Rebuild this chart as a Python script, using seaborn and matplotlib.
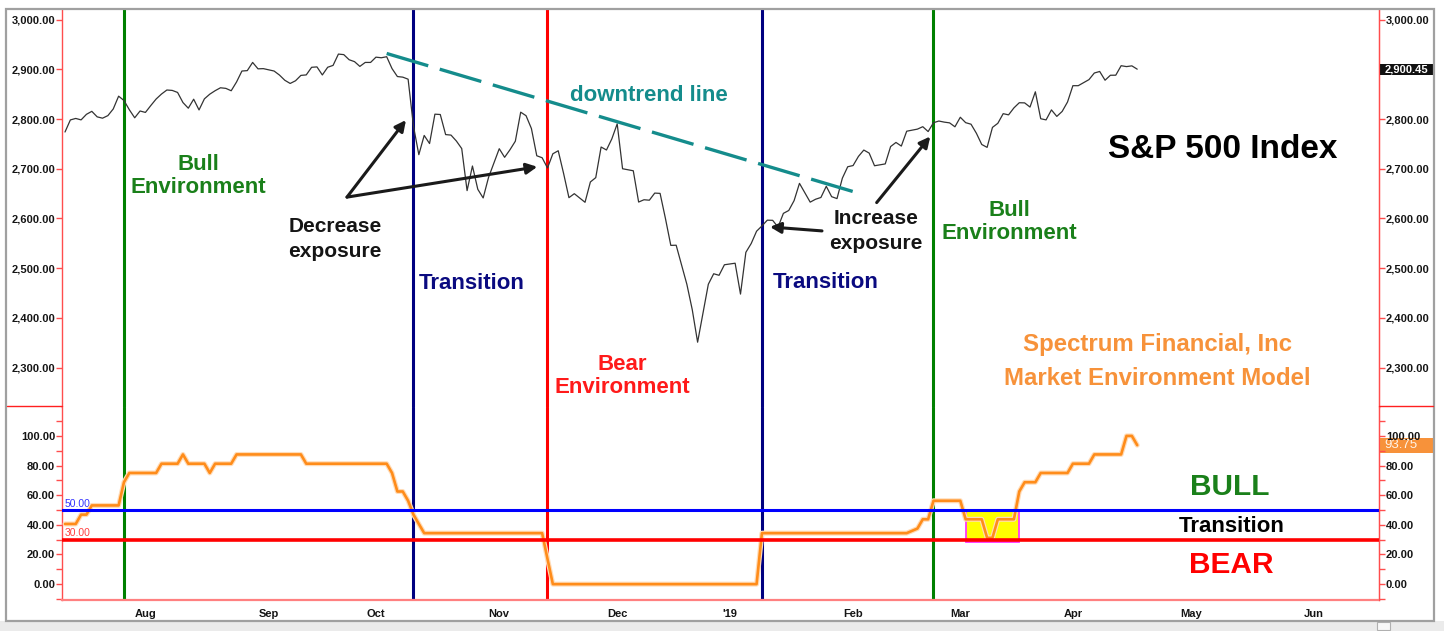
import numpy as np
import pandas as pd
import seaborn as sns
import matplotlib.pyplot as plt
import matplotlib.patheffects as pe
from matplotlib.patches import Rectangle
from matplotlib.lines import Line2D
from matplotlib.transforms import blended_transform_factory

# -----------------------------
# Data
# -----------------------------
start_date = '2018-07-11'
end_date = '2019-04-17'
market_holidays = ['2018-09-03', '2018-11-22', '2018-12-05', '2018-12-25',
                   '2019-01-01', '2019-01-21', '2019-02-18']

# S&P 500 daily closes, one value per trading day
spx_close = [
    # Jul 2018
    2774.0, 2798.3, 2801.3, 2798.4, 2809.6, 2815.6, 2804.5, 2801.8, 2807.0, 2820.4,
    2846.1, 2837.4, 2818.8, 2802.6, 2816.3,
    # Aug
    2813.4, 2827.2, 2840.4, 2850.4, 2858.5, 2857.7, 2853.6, 2833.3, 2821.9, 2840.0,
    2818.4, 2840.7, 2850.1, 2857.1, 2863.0, 2861.8, 2857.0, 2874.7, 2896.7, 2897.5,
    2914.0, 2901.1, 2901.5,
    # Sep
    2896.7, 2888.6, 2878.1, 2871.7, 2877.1, 2887.9, 2888.9, 2904.2, 2905.0, 2888.8,
    2904.3, 2908.0, 2930.8, 2929.7, 2919.4, 2915.6, 2906.0, 2914.0, 2914.0,
    # Oct
    2924.6, 2923.4, 2925.5, 2901.6, 2885.6, 2884.4, 2880.3, 2785.7, 2728.4, 2767.1,
    2750.8, 2809.9, 2809.2, 2768.8, 2767.8, 2755.9, 2740.7, 2656.1, 2705.6, 2658.7,
    2641.3, 2682.6, 2711.7,
    # Nov
    2740.4, 2723.1, 2738.3, 2755.5, 2813.9, 2806.8, 2781.0, 2726.2, 2722.2, 2701.6,
    2730.2, 2736.3, 2690.7, 2641.9, 2649.9, 2632.6, 2673.5, 2682.2, 2743.8, 2737.8,
    2760.2,
    # Dec
    2790.4, 2700.1, 2696.0, 2633.1, 2637.7, 2636.8, 2651.1, 2650.5, 2600.0, 2545.9,
    2546.2, 2507.0, 2467.4, 2416.6, 2351.1, 2467.7, 2488.8, 2485.7, 2506.9,
    # Jan 2019
    2510.0, 2447.9, 2531.9, 2549.7, 2574.4, 2585.0, 2596.6, 2596.3, 2582.6, 2610.3,
    2616.1, 2636.0, 2670.7, 2632.9, 2638.7, 2642.3, 2664.8, 2643.9, 2640.0, 2681.1,
    2704.1,
    # Feb
    2706.5, 2724.9, 2737.7, 2731.6, 2706.1, 2707.9, 2709.8, 2744.7, 2753.0, 2745.7,
    2775.6, 2779.8, 2784.7, 2774.9, 2792.7, 2796.1, 2793.9, 2792.4, 2784.5,
    # Mar
    2803.7, 2792.8, 2789.7, 2771.5, 2748.9, 2743.1, 2783.3, 2791.5, 2810.9, 2808.5,
    2822.5, 2832.9, 2832.6, 2824.2, 2854.9, 2800.7, 2798.4, 2818.5, 2805.4, 2815.4,
    2834.4,
    # Apr
    2867.2, 2867.2, 2873.4, 2879.4, 2892.7, 2895.8, 2878.2, 2888.2, 2888.3, 2907.4,
    2905.6, 2907.1, 2900.45,
]

# Market Environment Model (vertices where the line changes)
model_dates = ['2018-07-11', '2018-07-13', '2018-07-16', '2018-07-17', '2018-07-18',
               '2018-07-25', '2018-07-26', '2018-07-27', '2018-08-03', '2018-08-06',
               '2018-08-09', '2018-08-10', '2018-08-13', '2018-08-16', '2018-08-17',
               '2018-08-20', '2018-08-23', '2018-08-24', '2018-09-11', '2018-09-12',
               '2018-10-03', '2018-10-04', '2018-10-05', '2018-10-08', '2018-10-09',
               '2018-10-10', '2018-10-11', '2018-10-12', '2018-11-13', '2018-11-14',
               '2018-11-15', '2019-01-08', '2019-01-09', '2019-02-15', '2019-02-19',
               '2019-02-20', '2019-02-21', '2019-02-22', '2019-03-01', '2019-03-04',
               '2019-03-07', '2019-03-08', '2019-03-11', '2019-03-12', '2019-03-15',
               '2019-03-18', '2019-03-19', '2019-03-21', '2019-03-22', '2019-03-29',
               '2019-04-01', '2019-04-04', '2019-04-05', '2019-04-12', '2019-04-15',
               '2019-04-16', '2019-04-17']
model_values = [40.6, 40.6, 46.9, 46.9, 53.1, 53.1, 68.8, 75.0, 75.0, 81.25,
                81.25, 87.5, 81.25, 81.25, 75.0, 81.25, 81.25, 87.5, 87.5, 81.25,
                81.25, 75.0, 62.5, 62.5, 56.25, 46.9, 40.6, 34.4, 34.4, 17.0,
                0.0, 0.0, 34.4, 34.4, 37.5, 43.75, 43.75, 56.25, 56.25, 43.75,
                43.75, 31.25, 31.25, 43.75, 43.75, 62.5, 68.75, 68.75, 75.0, 75.0,
                81.25, 81.25, 87.5, 87.5, 100.0, 100.0, 93.75]

# regime change dates (vertical lines)
regime_dates = ['2018-07-26', '2018-10-10', '2018-11-14', '2019-01-09', '2019-02-22']
regime_colors = ['#008000', '#000080', '#ff0000', '#000080', '#008000']

# model thresholds
bull_level = 50
bear_level = 30

# highlighted transition dip
box_start, box_end = '2019-03-04', '2019-03-18'
box_low, box_high = 28.5, 50

month_labels = ['Aug', 'Sep', 'Oct', 'Nov', 'Dec', "'19", 'Feb', 'Mar', 'Apr', 'May', 'Jun']
month_starts = ['2018-08-01', '2018-09-01', '2018-10-01', '2018-11-01', '2018-12-01',
                '2019-01-01', '2019-02-01', '2019-03-01', '2019-04-01', '2019-05-01',
                '2019-06-01']

price_ticks = [2300, 2400, 2500, 2600, 2700, 2800, 2900, 3000]
model_ticks = [0, 20, 40, 60, 80, 100]


# x axis is a weekday axis (holidays leave a gap)
def wd(d):
    return np.busday_count(np.datetime64(start_date), np.datetime64(d, 'D'))


days = pd.bdate_range(start_date, end_date)
days = days[~days.isin(pd.to_datetime(market_holidays))]
assert len(days) == len(spx_close)
df = pd.DataFrame({'x': [wd(d.date()) for d in days], 'close': spx_close})
dm = pd.DataFrame({'x': [wd(d) for d in model_dates], 'model': model_values})

# -----------------------------
# Styling
# -----------------------------
sns.set_style("white")
plt.rcParams['font.family'] = ['Liberation Sans', 'DejaVu Sans']

AX_RED = '#ff4d4d'
TXT = '#151515'

fig = plt.figure(figsize=(14.44, 6.31), dpi=100)
W, H = 1444, 631
L, R = 62, 1379
ax1 = fig.add_axes([L / W, 1 - 407 / H, (R - L) / W, (407 - 9) / H])
ax2 = fig.add_axes([L / W, 1 - 600 / H, (R - L) / W, (600 - 407) / H], sharex=ax1)

# -----------------------------
# Top panel: S&P 500
# -----------------------------
sns.lineplot(data=df, x='x', y='close', ax=ax1, color='#333333', linewidth=0.9)
ax1.set_ylim(2220.7, 3021.5)

for d, c in zip(regime_dates, regime_colors):
    ax1.axvline(wd(d), color=c, lw=2.2, zorder=1)
    ax2.axvline(wd(d), color=c, lw=2.2, zorder=1)

# downtrend line
ax1.plot([wd('2018-10-03'), wd('2019-02-04')], [2932, 2651], color='#148c8c',
         lw=2.4, dashes=(13, 3.6), solid_capstyle='butt', zorder=3)
ax1.text(109, 2848, 'downtrend line', color='#148c8c', fontsize=16,
         fontweight='bold', ha='center', va='center')

env = dict(fontsize=16, fontweight='bold', ha='center', va='center', linespacing=1.15)
expo = dict(fontsize=15, fontweight='bold', ha='center', va='center', linespacing=1.4)
ax1.text(24.8, 2686, 'Bull\nEnvironment', color='#1a801a', **env)
ax1.text(50.4, 2559, 'Decrease\nexposure', color=TXT, **expo)
ax1.text(66.0, 2470, 'Transition', color='#0a0a80', fontsize=16, fontweight='bold',
         ha='left', va='center')
ax1.text(103.9, 2283, 'Bear\nEnvironment', color='#ff1a1a', **env)
ax1.text(132.1, 2472, 'Transition', color='#0a0a80', fontsize=16, fontweight='bold',
         ha='left', va='center')
ax1.text(151.3, 2574, 'Increase\nexposure', color=TXT, **expo)
ax1.text(176.2, 2593, 'Bull\nEnvironment', color='#1a801a', **env)
ax1.text(215.9, 2738, 'S&P 500 Index', color='#000000', fontsize=24,
         fontweight='bold', ha='center', va='center')
ax1.text(203.7, 2312, 'Spectrum Financial, Inc\nMarket Environment Model',
         color='#f7923a', fontsize=17.3, fontweight='bold', ha='center',
         va='center', linespacing=1.6)

arrow = dict(arrowstyle='-|>', color='#1a1a1a', lw=2.2, mutation_scale=16,
             shrinkA=0, shrinkB=0)
ax1.annotate('', xy=(63.6, 2798), xytext=(52.6, 2643), arrowprops=arrow)
ax1.annotate('', xy=(88.1, 2704), xytext=(52.6, 2643), arrowprops=arrow)
ax1.annotate('', xy=(131.5, 2583), xytext=(141.2, 2575), arrowprops=arrow)
ax1.annotate('', xy=(161.4, 2765), xytext=(151.4, 2632), arrowprops=arrow)

# -----------------------------
# Bottom panel: model
# -----------------------------
sns.lineplot(data=dm, x='x', y='model', ax=ax2, color='#ff8c1a', linewidth=1.9, zorder=4)
ax2.lines[-1].set_path_effects([pe.Stroke(linewidth=3.6, foreground='#ffdcb8'), pe.Normal()])
ax2.set_ylim(-10.7, 119.5)

ax2.add_patch(Rectangle((wd(box_start), box_low), wd(box_end) - wd(box_start) - 0.1,
                        box_high - box_low, facecolor='#ffff00', edgecolor='#ff33ff',
                        lw=1.3, zorder=2))
ax2.axhline(bull_level, color='#0000ff', lw=2.2, zorder=5)
ax2.axhline(bear_level, color='#ff0000', lw=2.6, zorder=5)
ax2.text(0.0, bull_level + 0.8, '50.00', color='#3333ff', fontsize=7.5, ha='left', va='bottom')
ax2.text(0.0, bear_level + 0.8, '30.00', color='#ff4040', fontsize=7.5, ha='left', va='bottom')

ax2.text(217.2, 65.8, 'BULL', color='#1a801a', fontsize=21.5, fontweight='bold',
         ha='center', va='center')
ax2.text(217.6, 38.8, 'Transition', color='#000000', fontsize=16, fontweight='bold',
         ha='center', va='center')
ax2.text(217.6, 12.9, 'BEAR', color='#ff0000', fontsize=21.5, fontweight='bold',
         ha='center', va='center')

# -----------------------------
# Axes, ticks and labels
# -----------------------------
for ax in (ax1, ax2):
    ax.set_xlabel('')
    ax.set_ylabel('')
    ax.spines['top'].set_visible(False)
    for s in ('left', 'right'):
        ax.spines[s].set_color(AX_RED)
        ax.spines[s].set_linewidth(1.0)
ax1.spines['bottom'].set_visible(False)
ax2.spines['bottom'].set_color('#ff8080')
ax2.spines['bottom'].set_linewidth(1.6)

ax1.set_yticks(price_ticks, labels=[f'{v:,.2f}' for v in price_ticks])
ax2.set_yticks(model_ticks, labels=[f'{v:.2f}' for v in model_ticks])
ax2.set_yticks(np.arange(-10, 120, 10), minor=True)
for ax in (ax1, ax2):
    ax.tick_params(axis='y', which='both', direction='out', length=4, width=1,
                   color=AX_RED, labelsize=8, labelcolor=TXT, pad=1)
    for t in ax.get_yticklabels():
        t.set_fontweight('bold')

ax1.tick_params(axis='x', which='both', bottom=False, labelbottom=False)
ax2.set_xticks([wd(d) for d in month_starts], labels=month_labels)
mondays = pd.date_range('2018-07-16', '2019-06-17', freq='W-MON')
ax2.set_xticks([wd(d.date()) for d in mondays], minor=True)
ax2.tick_params(axis='x', which='major', direction='out', length=6, width=1,
                color=AX_RED, labelsize=8, labelcolor=TXT, pad=0.5)
ax2.tick_params(axis='x', which='minor', direction='out', length=3.5, width=1, color=AX_RED)
for t in ax2.get_xticklabels():
    t.set_fontweight('bold')

# x range set after the ticks (set_xticks widens the view)
ax1.set_xlim(-0.56, 245.1)

# right-hand scales
r1 = ax1.twinx()
r1.set_ylim(ax1.get_ylim())
r1.set_yticks([v for v in price_ticks if v != 2900],
              labels=[f'{v:,.2f}' for v in price_ticks if v != 2900])
r2 = ax2.twinx()
r2.set_ylim(ax2.get_ylim())
r2.set_yticks(model_ticks, labels=[f'{v:.2f}' for v in model_ticks])
r2.set_yticks(np.arange(-10, 120, 10), minor=True)
for r in (r1, r2):
    for s in ('top', 'bottom', 'left'):
        r.spines[s].set_visible(False)
    r.spines['right'].set_color(AX_RED)
    r.tick_params(axis='y', which='both', direction='out', length=4, width=1,
                  color=AX_RED, labelsize=8, labelcolor=TXT, pad=1)
    for t in r.get_yticklabels():
        t.set_fontweight('bold')

# last-value flags on the right scale
bx1 = blended_transform_factory(ax1.transAxes, ax1.transData)
ax1.add_patch(Rectangle((1.001, spx_close[-1] - 11), 54 / (R - L), 22, transform=bx1,
                        facecolor='#111111', edgecolor='none', clip_on=False, zorder=6))
ax1.text(1.004, spx_close[-1], f'{spx_close[-1]:,.2f}', transform=bx1, color='white',
         fontsize=8, fontweight='bold', ha='left', va='center', zorder=7, clip_on=False)
bx2 = blended_transform_factory(ax2.transAxes, ax2.transData)
ax2.add_patch(Rectangle((1.001, model_values[-1] - 5), 54 / (R - L), 10, transform=bx2,
                        facecolor='#f7923a', edgecolor='none', clip_on=False, zorder=6))
ax2.text(1.004, model_values[-1], f'{model_values[-1]:.2f}', transform=bx2,
         color='#fff4e8', fontsize=9.5, ha='left', va='center', zorder=7, clip_on=False)

# panel divider in the scale margins, outer frame and scroll bar
fig.add_artist(Line2D([7 / W, L / W], [1 - 406 / H] * 2, color='#ff2020', lw=1))
fig.add_artist(Line2D([R / W, 1433 / W], [1 - 406 / H] * 2, color='#ff2020', lw=1))
fig.add_artist(Rectangle((0, 0), 1, 10 / H, facecolor='#ebebeb', edgecolor='none'))
fig.add_artist(Rectangle((1377 / W, 1 / H), 13 / W, 8 / H, facecolor='#f8f8f8',
                         edgecolor='#b0b0b0', lw=0.8))
fig.add_artist(Rectangle((6 / W, 10 / H), 1428 / W, 612 / H, fill=False,
                         edgecolor='#a0a0a0', lw=1.6))

fig.savefig('out.png', dpi=100)
plt.close(fig)
